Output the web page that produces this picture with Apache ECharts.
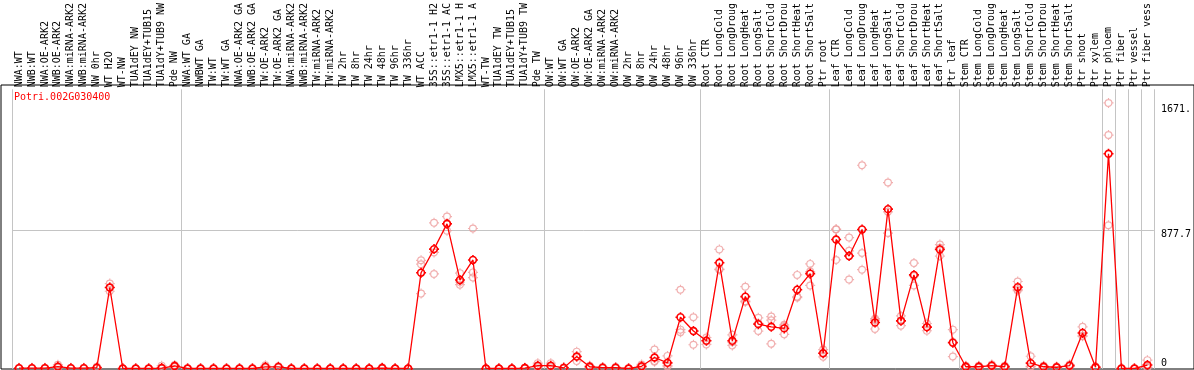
<!DOCTYPE html>
<html>
<head>
<meta charset="utf-8">
<script src="https://cdn.jsdelivr.net/npm/echarts@6.0.0/dist/echarts.min.js"></script>
<style>
  html, body { margin: 0; padding: 0; background: #fff; }
  #chart { width: 1194px; height: 370px; }
</style>
</head>
<body>
<div id="chart"></div>
<script>
// gene shown in the plot
const geneId = 'Potri.002G030400';

// sample names, in plot order
const categories = [
  'NWA:WT', 'NWB:WT', 'NWA:OE-ARK2', 'NWB:OE-ARK2', 'NWA:miRNA-ARK2', 'NWB:miRNA-ARK2', 'NW 0hr', 'WT H2O', 'WT-NW',
  'TUA1dEY NW', 'TUA1dEY+TUB15', 'TUA1dY+TUB9 NW', 'Pde NW',
  'NWA:WT GA', 'NWBWT GA', 'TW:WT', 'TW:WT GA', 'NWA:OE-ARK2 GA', 'NWB:OE-ARK2 GA', 'TW:OE-ARK2', 'TW:OE-ARK2 GA',
  'NWA:miRNA-ARK2', 'NWB:miRNA-ARK2', 'TW:miRNA-ARK2', 'TW:miRNA-ARK2', 'TW 2hr', 'TW 8hr', 'TW 24hr', 'TW 48hr',
  'TW 96hr', 'TW 336hr', 'WT ACC', '35S::etr1-1 H2', '35S::etr1-1 AC', 'LMX5::etr1-1 H', 'LMX5::etr1-1 A', 'WT-TW',
  'TUA1dEY TW', 'TUA1dEY+TUB15', 'TUA1dY+TUB9 TW', 'Pde TW',
  'OW:WT', 'OW:WT GA', 'OW:OE-ARK2', 'OW:OE-ARK2 GA', 'OW:miRNA-ARK2', 'OW:miRNA-ARK2', 'OW 2hr', 'OW 8hr', 'OW 24hr',
  'OW 48hr', 'OW 96hr', 'OW 336hr',
  'Root CTR', 'Root LongCold', 'Root LongDroug', 'Root LongHeat', 'Root LongSalt', 'Root ShortCold', 'Root ShortDrou',
  'Root ShortHeat', 'Root ShortSalt', 'Ptr root',
  'Leaf CTR', 'Leaf LongCold', 'Leaf LongDroug', 'Leaf LongHeat', 'Leaf LongSalt', 'Leaf ShortCold', 'Leaf ShortDrou',
  'Leaf ShortHeat', 'Leaf ShortSalt', 'Ptr leaf',
  'Stem CTR', 'Stem LongCold', 'Stem LongDroug', 'Stem LongHeat', 'Stem LongSalt', 'Stem ShortCold', 'Stem ShortDrou',
  'Stem ShortHeat', 'Stem ShortSalt', 'Ptr shoot', 'Ptr xylem',
  'Ptr phloem', 'Ptr fiber', 'Ptr vessel', 'Ptr fiber vess'
];

// mean expression per sample
const means = [
  2, 2, 2, 12, 2, 2, 5, 515, 0, 0, 0, 3, 16,
  0, 0, 0, 0, 0, 0, 10, 10, 0, 0, 0, 0, 0, 0, 0, 3, 0, 0, 609, 759, 920, 563, 690, 0, 0, 0, 3, 18,
  18, 4, 76, 11, 5, 5, 0, 14, 70, 36, 326, 238,
  176, 672, 176, 457, 282, 265, 255, 501, 603, 97,
  820, 715, 884, 292, 1013, 303, 595, 263, 757, 164,
  11, 11, 18, 11, 517, 34, 11, 8, 18, 226, 8,
  1365, 0, 0, 22
];

// individual replicates per sample
const replicates = [
  [0, 2, 4], [0, 2, 4], [0, 2, 4], [4, 8, 24], [0, 2, 4], [0, 2, 4], [0, 4, 11], [491, 515, 540], [0, 0, 0],
  [0, 0, 0], [0, 0, 0], [0, 2, 18], [10, 16, 22],
  [0, 0, 0], [0, 0, 0], [0, 0, 0], [0, 0, 0], [0, 0, 0], [0, 0, 0], [3, 8, 20], [5, 10, 15],
  [0, 0, 0], [0, 0, 0], [0, 0, 0], [0, 0, 0], [0, 0, 0], [0, 0, 0], [0, 0, 0], [0, 2, 8],
  [0, 0, 0], [0, 0, 0], [476, 663, 688], [601, 738, 926], [876, 918, 966], [533, 550, 606], [578, 611, 890], [0, 0, 0],
  [0, 0, 0], [0, 0, 0], [0, 3, 6], [8, 14, 34],
  [8, 14, 34], [0, 4, 8], [47, 76, 107], [5, 11, 18], [0, 5, 10], [0, 5, 10], [0, 0, 0], [5, 12, 26], [43, 47, 120],
  [11, 18, 80], [230, 247, 501], [151, 238, 326],
  [153, 178, 197], [628, 632, 757], [147, 168, 214], [424, 428, 520], [238, 287, 322], [157, 307, 330], [217, 270, 278],
  [451, 457, 595], [528, 616, 665], [74, 97, 120],
  [690, 884, 886], [565, 748, 832], [628, 734, 1292], [251, 308, 317], [861, 996, 1182], [272, 303, 334], [528, 587, 670],
  [240, 263, 286], [715, 768, 788], [76, 169, 247],
  [5, 11, 18], [5, 11, 18], [11, 18, 25], [5, 11, 18], [495, 503, 553], [10, 14, 78], [5, 11, 18],
  [4, 8, 12], [11, 18, 25], [205, 208, 265], [4, 8, 12],
  [911, 1484, 1688], [0, 0, 0], [0, 0, 0], [5, 8, 53]
];

// first sample of each group (grey separators)
const groupStarts = [0, 13, 41, 53, 63, 73, 84, 85, 86, 87];

// value axis
const yMax = 1775;
const yTickValues = [0, 877.7, 1671];
const yTickLabels = ['0', '877.7', '1671.'];

const mono = 'DejaVu Sans Mono';
const grey = '#c4c4c4';
const red = '#ff0000';
const pale = '#ee9c9c';
// small ring with four little ticks
const ring = 'path://M5,0L5,1.5M5,8.5L5,10M0,5L1.5,5M8.5,5L10,5M8.4,5A3.4,3.4,0,1,1,1.6,5A3.4,3.4,0,1,1,8.4,5Z';

const repPoints = [];
replicates.forEach(function (reps, i) {
  reps.forEach(function (v) { repPoints.push([i, v]); });
});

const isSep = function (index) { return groupStarts.indexOf(index) >= 0; };
const near = function (a, b) { return Math.abs(a - b) < 0.01; };

function labelAxis(value, text, align) {
  return {
    type: 'value', gridIndex: 0, position: 'right', min: 0, max: yMax, interval: value,
    axisLine: {show: false}, axisTick: {show: false}, splitLine: {show: false},
    axisLabel: {
      margin: 7, verticalAlign: align, lineHeight: 8, color: '#000', fontFamily: mono, fontSize: 10,
      formatter: function (v) { return near(v, value) ? text : ''; }
    }
  };
}

const chart = echarts.init(document.getElementById('chart'));
chart.setOption({
  animation: false,
  title: {
    text: geneId, left: 9, top: 87,
    textStyle: {color: red, fontFamily: mono, fontSize: 10, fontWeight: 'normal'}
  },
  grid: [
    {left: 12.5, right: 37.5, top: 85, bottom: 1.5},
    {left: 1, right: -4, top: 85, bottom: 1, show: true, borderColor: '#000', borderWidth: 1, backgroundColor: 'rgba(0,0,0,0)'}
  ],
  xAxis: [
    {
      type: 'category', gridIndex: 0, position: 'top', data: categories, boundaryGap: true,
      axisLine: {show: false},
      axisTick: {show: true, interval: isSep, length: 85, lineStyle: {color: grey}},
      splitLine: {show: true, interval: isSep, lineStyle: {color: grey}},
      axisLabel: {interval: 0, rotate: 90, margin: 2, color: '#000', fontFamily: mono, fontSize: 10}
    },
    {type: 'value', gridIndex: 1, show: false}
  ],
  yAxis: [
    {
      type: 'value', gridIndex: 0, position: 'right', min: 0, max: yMax, interval: yTickValues[1],
      axisLine: {show: false}, axisTick: {show: false},
      splitLine: {show: true, lineStyle: {color: ['rgba(0,0,0,0)', grey, 'rgba(0,0,0,0)']}},
      axisLabel: {
        margin: 7, verticalAlign: 'bottom', color: '#000', fontFamily: mono, fontSize: 10,
        formatter: function (v) { return near(v, yTickValues[0]) ? yTickLabels[0] : ''; }
      }
    },
    labelAxis(yTickValues[1], yTickLabels[1], 'top'),
    labelAxis(yTickValues[2], yTickLabels[2], 'top'),
    {type: 'value', gridIndex: 1, show: false}
  ],
  series: [
    {
      type: 'scatter', xAxisIndex: 0, yAxisIndex: 0, data: repPoints, silent: true,
      symbol: ring, symbolSize: 10,
      itemStyle: {color: 'rgba(0,0,0,0)', borderColor: pale, borderWidth: 1.2}
    },
    {
      type: 'line', xAxisIndex: 0, yAxisIndex: 0, data: means, silent: true,
      symbol: ring, symbolSize: 10, showAllSymbol: true,
      lineStyle: {color: red, width: 1.3},
      itemStyle: {color: 'rgba(0,0,0,0)', borderColor: red, borderWidth: 1.6}
    }
  ]
});
</script>
</body>
</html>
